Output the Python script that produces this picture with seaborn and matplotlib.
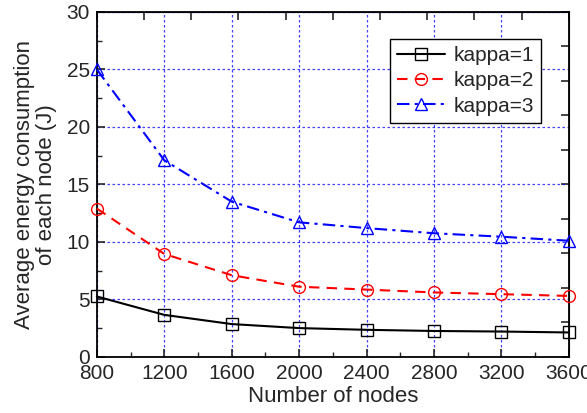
"""Average energy consumption per node vs. number of nodes."""

import matplotlib
matplotlib.use("Agg")
import matplotlib.pyplot as plt
import numpy as np
import pandas as pd
import seaborn as sns
from matplotlib.ticker import MultipleLocator

nodes = [800, 1200, 1600, 2000, 2400, 2800, 3200, 3600]
kappa1 = [5.25, 3.65, 2.85, 2.5, 2.35, 2.25, 2.2, 2.12]
kappa2 = [12.9, 8.95, 7.1, 6.1, 5.85, 5.6, 5.45, 5.3]
kappa3 = [25.0, 17.1, 13.5, 11.7, 11.2, 10.75, 10.45, 10.1]
labels = ["kappa=1", "kappa=2", "kappa=3"]

df = pd.DataFrame({
    "nodes": nodes * 3,
    "energy": kappa1 + kappa2 + kappa3,
    "series": [labels[0]] * 8 + [labels[1]] * 8 + [labels[2]] * 8,
})

sns.set_style("ticks")
plt.rcParams["font.family"] = ["Liberation Sans", "DejaVu Sans"]

fig = plt.figure(figsize=(5.87, 4.13), dpi=100)
ax = fig.add_axes([0.165, 0.136, 0.804, 0.835])

styles = {
    labels[0]: dict(color="black", linestyle="-", marker="s"),
    labels[1]: dict(color="red", linestyle=(0, (5, 3.5)), marker="o"),
    labels[2]: dict(color="blue", linestyle=(0, (6, 2.5, 1.5, 2.5)), marker="^"),
}
for name, st in styles.items():
    sub = df[df["series"] == name]
    sns.lineplot(data=sub, x="nodes", y="energy", ax=ax, label=name,
                 color=st["color"], linestyle=st["linestyle"],
                 marker=st["marker"], markersize=8.5, markerfacecolor="none",
                 markeredgecolor=st["color"], markeredgewidth=1.0,
                 linewidth=1.5, clip_on=False, zorder=3)

ax.set_xlim(800, 3600)
ax.set_ylim(0, 30)
ax.xaxis.set_major_locator(MultipleLocator(400))
ax.xaxis.set_minor_locator(MultipleLocator(200))
ax.yaxis.set_major_locator(MultipleLocator(5))
ax.yaxis.set_minor_locator(MultipleLocator(2.5))
ax.tick_params(which="major", direction="in", length=6, width=1.2,
               labelsize=15, pad=5)
ax.tick_params(which="minor", direction="in", length=3.5, width=1.0)
ax.grid(True, which="major", color="blue", linestyle=(0, (2, 2)),
        linewidth=0.9, alpha=0.75)

for sp in ax.spines.values():
    sp.set_linewidth(1.3)
    sp.set_color("black")

# top/right axes with their own tick spacing, no labels
top = ax.secondary_xaxis("top")
top.set_xticks(np.arange(800, 3601, 280))
top.tick_params(direction="in", length=6, width=1.2, labeltop=False)
right = ax.secondary_yaxis("right")
right.set_yticks(np.arange(0, 31, 3))
right.tick_params(direction="in", length=6, width=1.2, labelright=False)

ax.set_xlabel("Number of nodes", fontsize=16, labelpad=2)
ax.set_ylabel("Average energy consumption\nof each node (J)", fontsize=16,
              labelpad=7, linespacing=1.05)

leg = ax.legend(loc="upper right", bbox_to_anchor=(0.941, 0.922),
                fontsize=15, frameon=True, fancybox=False, framealpha=1,
                edgecolor="black", handlelength=2.3, borderpad=0.35,
                labelspacing=0.3, handletextpad=0.4, borderaxespad=0)
leg.get_frame().set_linewidth(1.0)

fig.savefig("out.png", dpi=100)
